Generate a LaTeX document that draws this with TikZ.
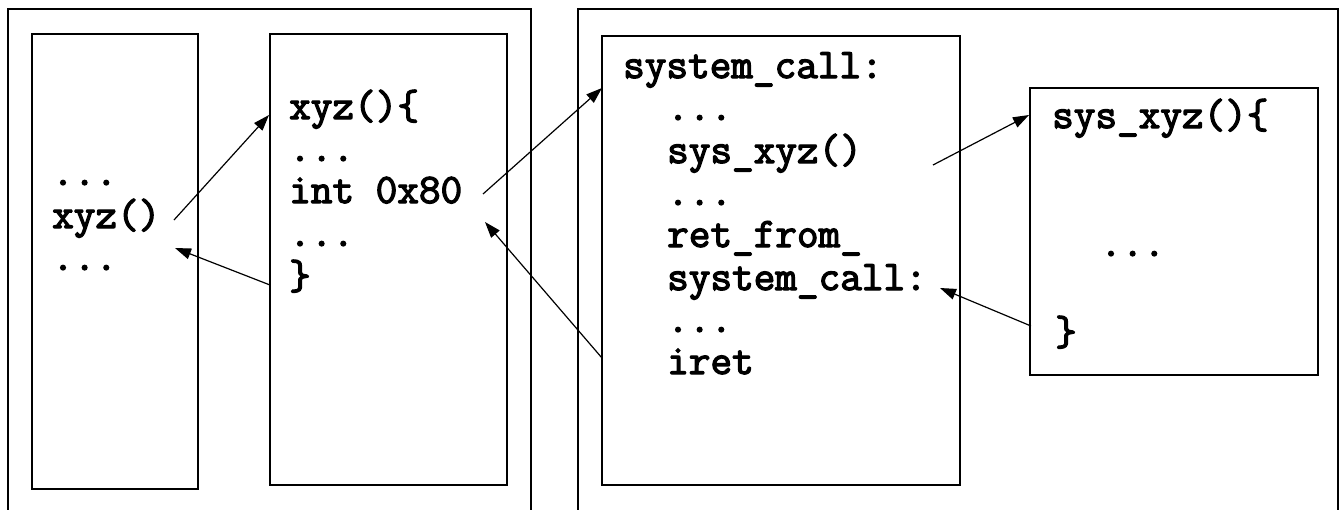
\documentclass[tikz,border=0pt]{standalone}
\usepackage{fontspec}
\newfontfamily\codefont{Latin Modern Mono}[FakeBold=3]
\usetikzlibrary{arrows.meta}
\begin{document}
\begin{tikzpicture}[x=1pt,y=-1pt,
  box/.style={draw=black,line width=1.3pt},
  code/.style={anchor=base west,inner sep=0pt,font=\codefont\fontsize{42}{44}\selectfont},
  arr/.style={draw=black,line width=1.2pt,-{Triangle[length=16pt,width=11pt]}}]
\useasboundingbox (0,0) rectangle (1344,509);
% outer frames (bottom beyond picture)
\draw[box] (8,515) -- (8,9) -- (531,9) -- (531,515);
\draw[box] (578,515) -- (578,9) -- (1338,9) -- (1338,515);
% inner boxes
\draw[box] (32,34) rectangle (198,489);
\draw[box] (270,34) rectangle (507,485);
\draw[box] (602,36) rectangle (960,485);
\draw[box] (1030,88) rectangle (1318,375);
% box 1
\node[code] (a1) at (52,185) {...};
\node[code] (a2) at (52,228) {xyz()};
\node[code] (a3) at (52,270) {...};
% box 2
\node[code] (b1) at (289,119) {xyz()\{};
\node[code] (b2) at (289,161) {...};
\node[code] (b3) at (289,203) {int 0x80};
\node[code] (b4) at (289,246) {...};
\node[code] (b5) at (289,289) {\}};
% box 3
\node[code] (c1) at (623,78) {system\_call:};
\node[code] (c2) at (667,120) {...};
\node[code] (c3) at (667,163) {sys\_xyz()};
\node[code] (c4) at (667,205) {...};
\node[code] (c5) at (667,247) {ret\_from\_};
\node[code] (c6) at (667,290) {system\_call:};
\node[code] (c7) at (667,332) {...};
\node[code] (c8) at (667,374) {iret};
% box 4
\node[code] (d1) at (1052,128) {sys\_xyz()\{};
\node[code] (d2) at (1100,256) {...};
\node[code] (d3) at (1055,345) {\}};
% connector endpoints
\coordinate (p1s) at (174,220); \coordinate (p1e) at (269,115);
\coordinate (p2s) at (270,285); \coordinate (p2e) at (175,248);
\coordinate (p3s) at (483,194); \coordinate (p3e) at (602,88);
\coordinate (p4s) at (602,358); \coordinate (p4e) at (485,222);
\coordinate (p5s) at (933,165); \coordinate (p5e) at (1029,115);
\coordinate (p6s) at (1031,326); \coordinate (p6e) at (940,288);
\draw[arr] (p1s) -- (p1e);
\draw[arr] (p2s) -- (p2e);
\draw[arr] (p3s) -- (p3e);
\draw[arr] (p4s) -- (p4e);
\draw[arr] (p5s) -- (p5e);
\draw[arr] (p6s) -- (p6e);
\end{tikzpicture}
\end{document}
